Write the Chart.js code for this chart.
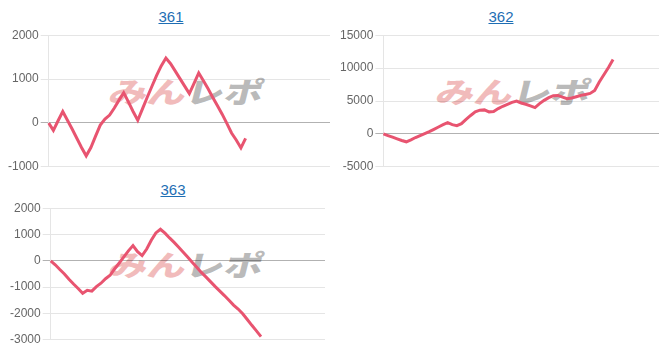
<!DOCTYPE html>
<html>
<head>
<meta charset="utf-8">
<script src="https://cdn.jsdelivr.net/npm/chart.js@4/dist/chart.umd.min.js"></script>
<style>
  body { margin: 0; background: #fff; width: 667px; height: 348px; overflow: hidden; font-family: Arial, "Liberation Sans", sans-serif; }
  .title { position: absolute; width: 120px; margin-left: -60px; text-align: center; font-size: 15px; color: #1e6eb4; text-decoration: underline; }
  .mark { position: absolute; font-family: "Noto Sans CJK JP", sans-serif; font-weight: 900; font-size: 32px; line-height: 32px; white-space: nowrap; transform: skewX(-14deg) scale(1.2, 0.9); transform-origin: left top; }
  .mark .a { color: rgba(228, 120, 120, 0.5); }
  .mark .b { color: rgba(140, 140, 140, 0.6); }
  canvas { position: absolute; }
</style>
</head>
<body>

<a class="title" style="left:171px; top:8px;">361</a>
<a class="title" style="left:501px; top:8px;">362</a>
<a class="title" style="left:173px; top:181px;">363</a>

<div class="mark" style="left:114px; top:76px;"><span class="a">みん</span><span class="b">レポ</span></div>
<div class="mark" style="left:441px; top:76px;"><span class="a">みん</span><span class="b">レポ</span></div>
<div class="mark" style="left:114px; top:249px;"><span class="a">みん</span><span class="b">レポ</span></div>

<canvas id="c361" width="324" height="150" style="left:6px; top:26px;"></canvas>
<canvas id="c362" width="321" height="150" style="left:338px; top:26px;"></canvas>
<canvas id="c363" width="317" height="150" style="left:8px; top:199px;"></canvas>

<script>
// 差枚グラフ（台番号ごと）
var games_361 = [];
var games_362 = [];
var games_363 = [];
for (var i = 0; i <= 60; i++) { games_361.push(i); games_362.push(i); games_363.push(i); }

var diff_361 = [0, -170, 50, 260, 60, -140, -350, -560, -750, -560, -300, -50, 90, 180, 340,
  520, 690, 480, 260, 60, 320, 580, 830, 1080, 1300, 1480, 1350, 1180, 1010, 840, 670, 900,
  1140, 960, 780, 580, 390, 200, -10, -230, -390, -570, -350];

var diff_362 = [0, -250, -500, -750, -1000, -1200, -900, -550, -250, 50, 350, 700, 1050, 1400,
  1700, 1400, 1250, 1550, 2200, 2800, 3350, 3600, 3650, 3350, 3400, 3850, 4200, 4500, 4800,
  5000, 4700, 4500, 4250, 4000, 4600, 5100, 5500, 5800, 5850, 5600, 5350, 5450, 5650, 5850,
  6000, 6150, 6600, 7900, 9000, 10100, 11300];

var diff_363 = [0, -150, -330, -500, -700, -880, -1050, -1230, -1120, -1150, -980, -850, -680,
  -550, -300, -80, 150, 380, 580, 350, 200, 450, 780, 1060, 1200, 1050, 870, 700, 520, 330,
  140, -60, -250, -450, -620, -800, -980, -1150, -1320, -1500, -1680, -1830, -2010, -2230,
  -2450, -2660, -2880];

var ticks_361 = [-1000, 0, 1000, 2000];
var ticks_362 = [-5000, 0, 5000, 10000, 15000];
var ticks_363 = [-3000, -2000, -1000, 0, 1000, 2000];

Chart.defaults.font.family = "Arial, 'Liberation Sans', sans-serif";
Chart.defaults.font.size = 12;
Chart.defaults.color = '#666';

function drawChart(id, labels, values, tickValues) {
  var ctx = document.getElementById(id).getContext('2d');
  return new Chart(ctx, {
    type: 'line',
    data: {
      labels: labels,
      datasets: [{
        data: values,
        borderColor: 'rgb(232, 84, 112)',
        backgroundColor: 'rgb(232, 84, 112)',
        borderWidth: 3,
        pointRadius: 0,
        tension: 0,
        fill: false
      }]
    },
    options: {
      responsive: false,
      animation: false,
      plugins: { legend: { display: false }, tooltip: { enabled: false } },
      scales: {
        x: { display: false },
        y: {
          min: tickValues[0],
          max: tickValues[tickValues.length - 1],
          afterBuildTicks: function (axis) {
            axis.ticks = tickValues.map(function (v) { return { value: v }; });
          },
          border: { color: 'rgba(0,0,0,0.1)' },
          grid: {
            color: function (c) { return c.tick && c.tick.value === 0 ? 'rgba(0,0,0,0.3)' : 'rgba(0,0,0,0.1)'; },
            tickLength: 8
          },
          ticks: { padding: 2, callback: function (v) { return v; } }
        }
      }
    }
  });
}

drawChart('c361', games_361, diff_361, ticks_361);
drawChart('c362', games_362, diff_362, ticks_362);
drawChart('c363', games_363, diff_363, ticks_363);
</script>
</body>
</html>
